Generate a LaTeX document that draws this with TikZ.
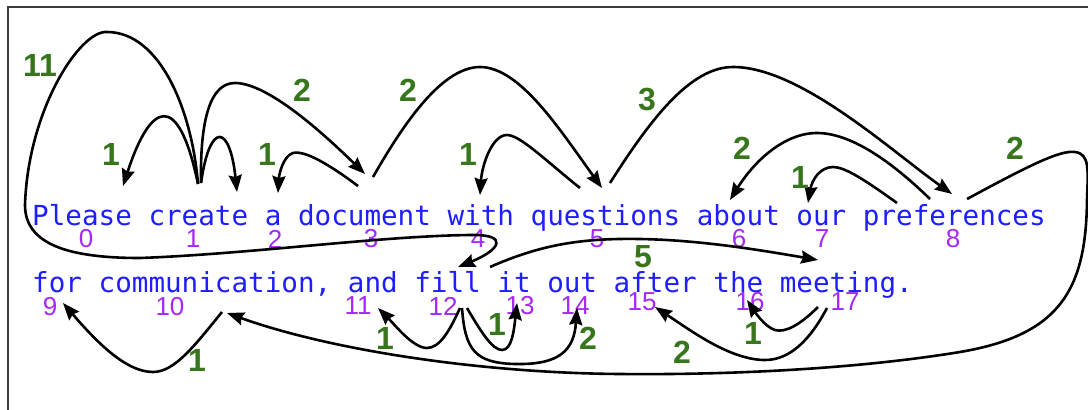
\documentclass[tikz,border=0pt]{standalone}
\usepackage{fontspec}
\setmainfont{Liberation Sans}
\newfontfamily\wordmono{DejaVu Sans Mono}
\usetikzlibrary{arrows.meta}
\definecolor{wordblue}{RGB}{30,30,255}
\definecolor{idxpurple}{RGB}{165,40,245}
\definecolor{lblgreen}{RGB}{56,118,29}
\definecolor{framegray}{RGB}{60,60,60}
\tikzset{
  words/.style={anchor=base west, inner sep=0pt, text=wordblue, font=\wordmono\fontsize{27.6}{32}\selectfont},
  idx/.style={inner sep=0pt, text=idxpurple, font=\fontsize{26}{30}\selectfont},
  dist/.style={inner sep=0pt, text=lblgreen, font=\bfseries\fontsize{32}{38}\selectfont},
  arc/.style={draw=black, line width=2.6pt, -{Stealth[length=17pt,width=13pt,inset=2pt]}},
}
\begin{document}
\begin{tikzpicture}[x=1pt,y=-1pt]
\useasboundingbox (0,0) rectangle (1088,410);
\draw[framegray, line width=1.6pt] (8,415) -- (8,7) -- (1095,7);

% sentence
\node[words] (line1) at (32,225) {Please create a document with questions about our preferences};
\node[words] (line2) at (32,292) {for communication, and fill it out after the meeting.};

% token indices
\node[idx] (i0) at (86,239) {0};
\node[idx] (i1) at (193,239) {1};
\node[idx] (i2) at (275,239) {2};
\node[idx] (i3) at (371,239) {3};
\node[idx] (i4) at (478,239) {4};
\node[idx] (i5) at (597,239) {5};
\node[idx] (i6) at (739,239) {6};
\node[idx] (i7) at (822,239) {7};
\node[idx] (i8) at (953,239) {8};
\node[idx] (i9) at (50,307) {9};
\node[idx] (i10) at (170,307) {10};
\node[idx] (i11) at (358,306) {11};
\node[idx] (i12) at (443,306) {12};
\node[idx] (i13) at (520,306) {13};
\node[idx] (i14) at (575,306) {14};
\node[idx] (i15) at (642,302) {15};
\node[idx] (i16) at (750,302) {16};
\node[idx] (i17) at (845,302) {17};

% arc end points
\coordinate (create) at (198,184);
\coordinate (createB) at (201,183);
\coordinate (toPlease) at (123,186);
\coordinate (toCreateR) at (237,192);
\coordinate (docL) at (358,186);
\coordinate (docR) at (373,177);
\coordinate (toDoc) at (365,174);
\coordinate (toA) at (278,193);
\coordinate (qL) at (580,188);
\coordinate (qR) at (610,183);
\coordinate (toQ) at (602,188);
\coordinate (toWith) at (480,195);
\coordinate (prefA) at (930,199);
\coordinate (prefB) at (897,203);
\coordinate (prefC) at (967,199);
\coordinate (toPref) at (952,194);
\coordinate (toAbout) at (730,200);
\coordinate (toOur) at (808,203);
\coordinate (fillUp) at (490,267);
\coordinate (toFill) at (458,267);
\coordinate (toMeet) at (818,260);
\coordinate (fillA) at (460,308);
\coordinate (fillB) at (467,308);
\coordinate (fillC) at (462,308);
\coordinate (toAnd) at (378,308);
\coordinate (toIt) at (517,303);
\coordinate (toOut) at (577,308);
\coordinate (commD) at (222,312);
\coordinate (toFor) at (63,303);
\coordinate (toComm) at (227,313);
\coordinate (meetA) at (818,307);
\coordinate (meetB) at (827,308);
\coordinate (toThe) at (747,300);
\coordinate (toAfter) at (655,307);

% arcs
\draw[arc] (create) .. controls (192,110) and (160,32) .. (107,32)
  .. controls (80,30) and (28,110) .. (25,205)
  .. controls (25,245) and (70,258) .. (140,258)
  .. controls (250,254) and (380,236) .. (470,235)
  .. controls (510,234) and (500,250) .. (toFill);
\draw[arc] (create) .. controls (178,88) and (150,103) .. (toPlease);
\draw[arc] (createB) .. controls (210,120) and (230,125) .. (toCreateR);
\draw[arc] (createB) .. controls (200,120) and (210,83) .. (235,83)
  .. controls (270,83) and (330,140) .. (toDoc);
\draw[arc] (docL) .. controls (330,165) and (305,150) .. (293,153)
  .. controls (283,156) and (279,175) .. (toA);
\draw[arc] (docR) .. controls (400,130) and (440,67) .. (480,67)
  .. controls (520,67) and (560,130) .. (toQ);
\draw[arc] (qL) .. controls (545,160) and (520,135) .. (507,135)
  .. controls (492,135) and (482,165) .. (toWith);
\draw[arc] (qR) .. controls (650,120) and (690,67) .. (733,67)
  .. controls (800,67) and (890,150) .. (toPref);
\draw[arc] (prefA) .. controls (890,160) and (850,133) .. (817,133)
  .. controls (785,133) and (755,160) .. (toAbout);
\draw[arc] (prefB) .. controls (865,180) and (845,167) .. (833,167)
  .. controls (820,167) and (812,180) .. (toOur);
\draw[arc] (prefC) .. controls (1030,165) and (1060,150) .. (1075,152)
  .. controls (1090,154) and (1088,170) .. (1087,200)
  .. controls (1086,290) and (1060,335) .. (960,352)
  .. controls (850,370) and (720,375) .. (620,374)
  .. controls (480,373) and (330,350) .. (toComm);
\draw[arc] (fillUp) .. controls (540,245) and (580,238) .. (640,239)
  .. controls (700,240) and (760,250) .. (toMeet);
\draw[arc] (commD) .. controls (195,345) and (175,372) .. (153,372)
  .. controls (125,372) and (95,340) .. (toFor);
\draw[arc] (fillA) .. controls (450,330) and (440,348) .. (427,348)
  .. controls (413,348) and (395,325) .. (toAnd);
\draw[arc] (fillB) .. controls (480,330) and (492,350) .. (502,350)
  .. controls (512,350) and (514,330) .. (toIt);
\draw[arc] (fillC) .. controls (465,350) and (475,363) .. (515,364)
  .. controls (560,365) and (574,350) .. (toOut);
\draw[arc] (meetA) .. controls (800,325) and (785,333) .. (775,330)
  .. controls (765,327) and (755,312) .. (toThe);
\draw[arc] (meetB) .. controls (810,340) and (790,360) .. (765,360)
  .. controls (730,360) and (690,330) .. (toAfter);

% distance labels
\node[dist] (d11) at (40,65) {11};
\node[dist] (d1a) at (111,154) {1};
\node[dist] (d2a) at (302,90) {2};
\node[dist] (d1b) at (267,154) {1};
\node[dist] (d2b) at (408,90) {2};
\node[dist] (d1c) at (468,154) {1};
\node[dist] (d3) at (647,100) {3};
\node[dist] (d2c) at (742,148) {2};
\node[dist] (d1d) at (800,177) {1};
\node[dist] (d2d) at (1015,148) {2};
\node[dist] (d5) at (643,257) {5};
\node[dist] (d1e) at (197,360) {1};
\node[dist] (d1f) at (385,338) {1};
\node[dist] (d1g) at (497,324) {1};
\node[dist] (d2e) at (588,338) {2};
\node[dist] (d1h) at (753,333) {1};
\node[dist] (d2f) at (682,352) {2};
\end{tikzpicture}
\end{document}
